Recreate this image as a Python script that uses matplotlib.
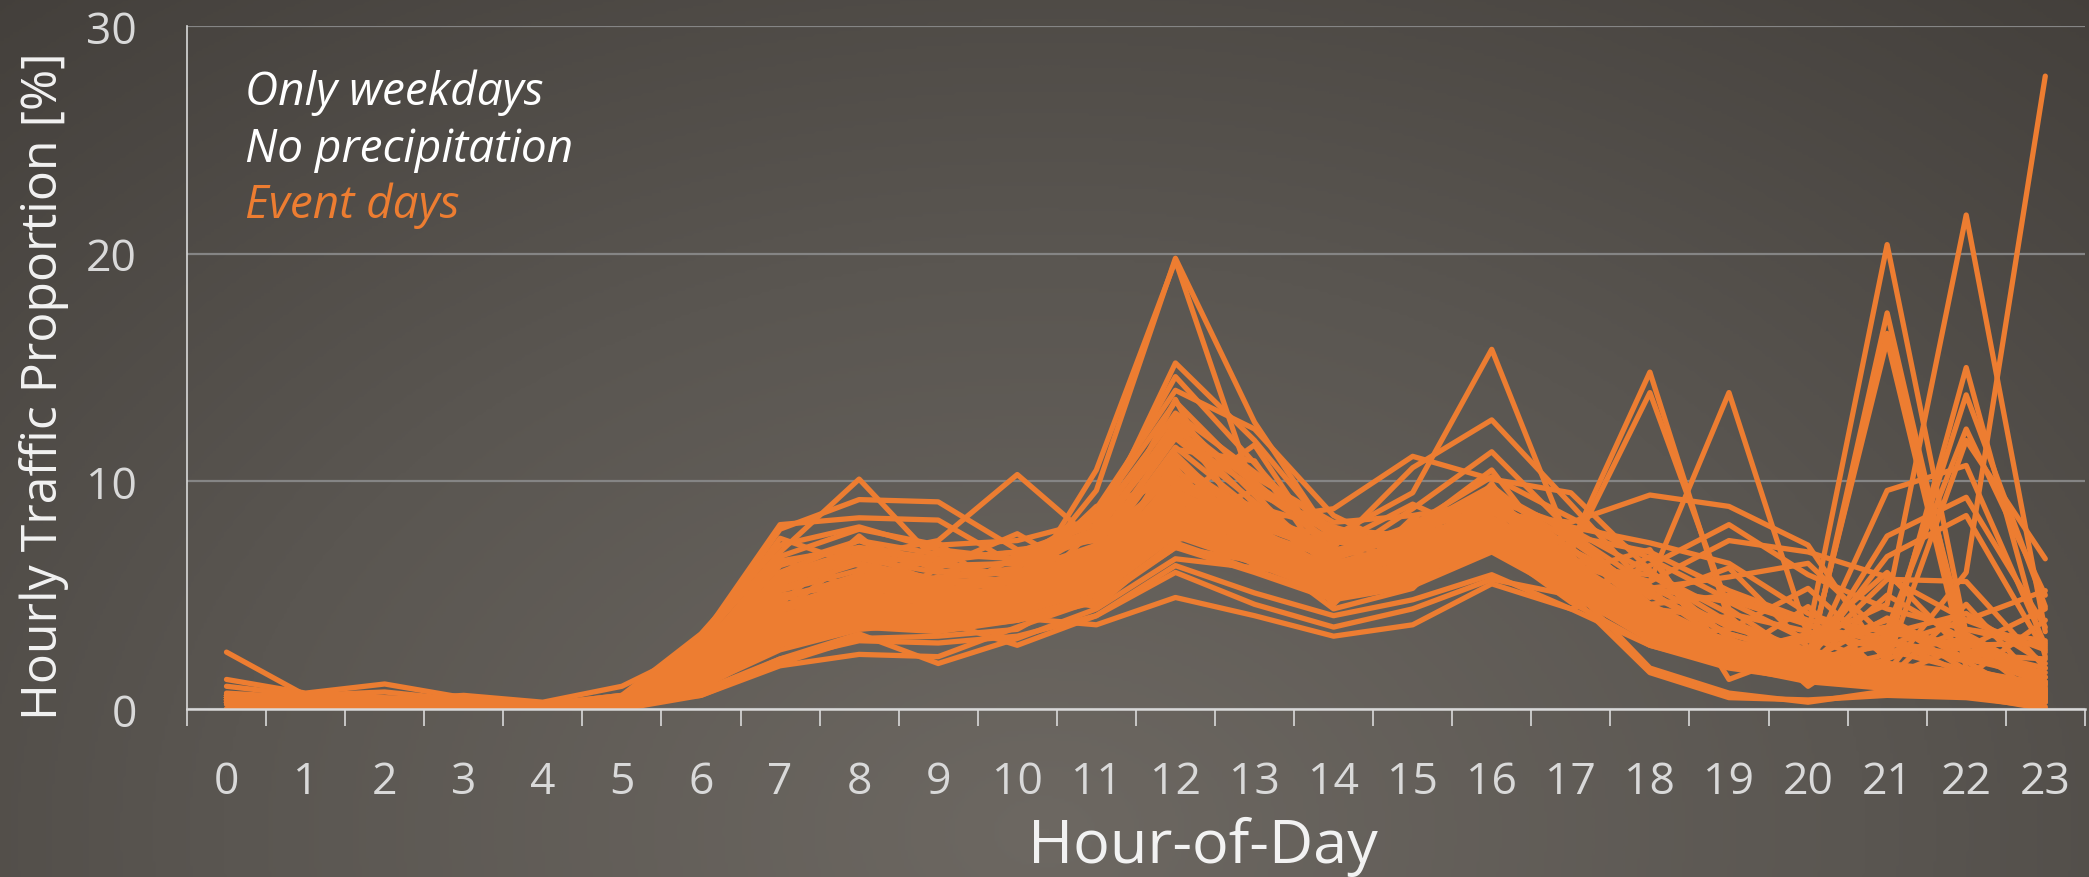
import numpy as np
import matplotlib
matplotlib.use("Agg")
import matplotlib.pyplot as plt
from matplotlib.colors import LinearSegmentedColormap

hours = list(range(24))
hour_labels = [str(h) for h in hours]
y_ticks = [0, 10, 20, 30]

# hourly share of daily traffic [%], one list per event day (hour 0..23)
d01 = [2.5, 0.6, 0.5, 0.4, 0.2, 0.5, 1.8, 5.2, 6.1, 5.4, 5.0, 6.3, 10.2, 8.0, 6.1, 7.2, 9.0, 6.5, 4.3, 3.0, 2.2, 2.0, 1.5, 1.0]
d02 = [1.3, 0.7, 1.1, 0.5, 0.2, 0.6, 2.2, 6.0, 7.4, 6.1, 5.5, 6.8, 11.5, 8.7, 6.4, 7.0, 8.4, 6.2, 4.0, 2.6, 1.8, 1.6, 1.2, 0.8]
d03 = [1.0, 0.6, 0.75, 0.4, 0.2, 0.4, 1.5, 4.5, 5.6, 5.3, 4.8, 6.0, 9.6, 7.9, 5.7, 6.9, 9.2, 7.0, 5.1, 3.3, 2.3, 2.0, 1.6, 1.1]
d04 = [0.4, 0.3, 0.3, 0.3, 0.1, 0.4, 1.6, 4.1, 5.0, 4.6, 5.3, 9.6, 19.8, 12.6, 7.4, 6.5, 7.6, 5.2, 3.1, 2.1, 1.3, 1.2, 0.9, 0.6]
d05 = [0.5, 0.4, 0.3, 0.3, 0.2, 0.3, 1.4, 3.6, 4.6, 4.4, 4.9, 10.5, 19.7, 9.5, 8.0, 7.0, 8.0, 5.6, 3.2, 2.0, 1.3, 1.1, 0.8, 0.5]
d06 = [0.6, 0.4, 0.4, 0.3, 0.2, 0.4, 1.9, 4.8, 5.9, 5.2, 5.8, 7.9, 15.2, 11.8, 7.6, 6.3, 7.9, 5.5, 3.4, 2.3, 1.6, 1.3, 1.0, 0.7]
d07 = [0.5, 0.3, 0.4, 0.4, 0.2, 0.5, 2.0, 5.3, 6.4, 5.7, 6.2, 8.4, 14.6, 10.8, 6.9, 7.4, 8.3, 5.8, 3.5, 2.2, 1.5, 1.2, 1.0, 0.6]
d08 = [0.6, 0.4, 0.3, 0.3, 0.2, 0.4, 1.7, 5.0, 5.5, 5.1, 5.9, 8.8, 14.0, 12.3, 8.5, 6.8, 7.5, 5.4, 3.6, 2.3, 1.5, 1.3, 0.9, 0.6]
d09 = [0.4, 0.3, 0.3, 0.3, 0.2, 0.4, 1.3, 3.9, 4.7, 4.8, 5.0, 6.1, 9.8, 8.2, 7.6, 9.5, 15.8, 7.1, 4.3, 2.7, 1.9, 1.7, 1.2, 0.7]
d10 = [0.5, 0.3, 0.3, 0.3, 0.1, 0.3, 1.5, 4.3, 5.3, 4.9, 5.4, 6.6, 10.8, 8.6, 7.1, 10.6, 12.7, 9.0, 5.2, 2.8, 1.9, 1.6, 1.2, 0.8]
d11 = [0.5, 0.4, 0.4, 0.3, 0.2, 0.4, 1.8, 4.9, 5.8, 5.6, 5.7, 7.1, 11.9, 9.1, 6.5, 8.8, 11.3, 7.8, 4.6, 2.6, 1.8, 1.5, 1.1, 0.7]
d12 = [0.4, 0.3, 0.3, 0.3, 0.2, 0.4, 1.6, 4.4, 5.1, 4.7, 5.2, 6.4, 9.3, 8.3, 8.8, 11.1, 10.1, 9.5, 6.1, 3.1, 1.7, 1.4, 1.0, 0.6]
d13 = [0.3, 0.2, 0.2, 0.2, 0.1, 0.3, 1.2, 3.5, 4.6, 4.5, 4.9, 6.0, 9.2, 7.6, 6.0, 6.6, 8.0, 7.2, 14.8, 3.9, 2.5, 1.6, 1.0, 0.5]
d14 = [0.4, 0.3, 0.3, 0.2, 0.1, 0.3, 1.3, 3.8, 4.9, 4.9, 5.1, 6.2, 9.5, 7.8, 6.2, 6.9, 8.3, 6.9, 13.9, 4.4, 2.1, 1.5, 1.1, 0.6]
d15 = [0.3, 0.3, 0.2, 0.2, 0.1, 0.3, 1.1, 3.2, 4.1, 4.0, 4.4, 5.5, 8.0, 7.0, 6.1, 7.5, 8.6, 8.2, 9.4, 8.9, 7.2, 2.0, 1.3, 0.7]
d16 = [0.4, 0.3, 0.3, 0.3, 0.1, 0.3, 1.2, 3.6, 4.5, 4.3, 4.7, 6.0, 8.7, 7.4, 6.3, 7.1, 8.4, 6.6, 5.6, 13.9, 3.2, 1.8, 1.2, 0.6]
d17 = [0.3, 0.2, 0.2, 0.2, 0.1, 0.2, 1.0, 3.0, 3.9, 3.6, 4.0, 5.0, 7.7, 6.4, 5.0, 5.9, 7.3, 5.6, 3.6, 2.4, 3.3, 20.4, 3.3, 1.4]
d18 = [0.3, 0.2, 0.2, 0.2, 0.1, 0.3, 1.1, 3.2, 4.2, 3.8, 4.3, 5.3, 8.0, 6.6, 5.2, 6.2, 7.6, 5.9, 3.8, 2.5, 1.9, 17.4, 2.4, 1.1]
d19 = [0.3, 0.2, 0.2, 0.2, 0.1, 0.3, 1.1, 3.3, 4.0, 4.0, 4.4, 5.4, 8.2, 6.8, 5.4, 6.3, 7.9, 6.0, 3.9, 2.6, 2.1, 16.5, 2.9, 1.2]
d20 = [0.3, 0.3, 0.3, 0.2, 0.1, 0.3, 1.2, 3.4, 4.3, 4.1, 4.5, 5.6, 8.4, 6.9, 5.5, 6.4, 7.8, 5.8, 4.0, 2.7, 2.2, 16.2, 1.8, 0.9]
d21 = [0.3, 0.2, 0.2, 0.2, 0.1, 0.2, 0.9, 2.8, 3.6, 3.4, 3.9, 4.7, 7.1, 6.0, 4.8, 5.4, 6.9, 5.0, 3.4, 2.4, 3.0, 4.6, 21.7, 3.4]
d22 = [0.2, 0.2, 0.2, 0.1, 0.1, 0.2, 0.7, 2.2, 3.0, 2.9, 3.2, 4.1, 6.3, 5.1, 4.1, 4.8, 5.9, 4.4, 2.8, 1.8, 1.3, 1.6, 6.0, 27.8]
d23 = [0.3, 0.2, 0.2, 0.2, 0.1, 0.2, 1.0, 2.9, 3.7, 3.5, 3.9, 4.8, 7.3, 6.1, 4.9, 5.6, 7.0, 5.2, 3.3, 2.2, 1.6, 2.4, 15.0, 2.3]
d24 = [0.3, 0.2, 0.2, 0.2, 0.1, 0.3, 1.0, 3.0, 3.8, 3.6, 4.0, 5.0, 7.6, 6.4, 5.0, 5.8, 7.2, 5.3, 3.5, 2.3, 1.7, 3.0, 13.8, 4.5]
d25 = [0.3, 0.3, 0.2, 0.2, 0.1, 0.3, 1.1, 3.1, 4.0, 3.7, 4.2, 5.2, 7.8, 6.6, 5.1, 6.0, 7.4, 5.4, 3.5, 2.4, 1.8, 3.5, 12.3, 5.0]
d26 = [0.3, 0.3, 0.2, 0.2, 0.1, 0.3, 1.1, 3.2, 4.1, 3.9, 4.3, 5.3, 8.1, 6.7, 5.3, 6.1, 7.5, 5.5, 3.7, 2.5, 1.9, 2.1, 11.8, 6.6]
d27 = [0.4, 0.3, 0.3, 0.2, 0.1, 0.3, 1.2, 3.4, 4.4, 4.0, 4.5, 5.5, 8.3, 6.9, 5.4, 6.2, 7.7, 5.7, 3.8, 2.6, 2.0, 9.6, 10.7, 2.8]
d28 = [0.4, 0.3, 0.3, 0.2, 0.2, 0.4, 1.3, 3.7, 4.6, 4.2, 4.7, 5.8, 8.8, 7.2, 5.6, 6.5, 8.0, 5.9, 4.0, 2.8, 2.0, 7.6, 9.3, 3.6]
d29 = [0.4, 0.3, 0.3, 0.3, 0.2, 0.4, 1.4, 3.9, 4.8, 4.4, 4.9, 6.0, 9.0, 7.4, 5.8, 6.7, 8.2, 6.1, 4.1, 2.9, 2.2, 6.7, 8.5, 2.5]
d30 = [0.4, 0.3, 0.3, 0.3, 0.2, 0.4, 1.5, 4.1, 5.0, 4.6, 5.0, 6.2, 9.4, 7.6, 5.9, 6.8, 8.4, 6.3, 4.2, 3.0, 2.3, 5.7, 5.6, 1.8]
d31 = [0.5, 0.4, 0.3, 0.3, 0.2, 0.5, 3.0, 6.9, 10.1, 6.4, 5.8, 6.6, 9.4, 7.1, 5.5, 6.1, 7.6, 5.6, 3.7, 2.5, 1.8, 1.4, 1.0, 0.6]
d32 = [0.5, 0.4, 0.4, 0.3, 0.2, 0.5, 2.9, 7.9, 9.2, 9.1, 7.0, 7.4, 10.2, 7.3, 5.3, 6.0, 7.2, 5.2, 3.4, 2.2, 1.5, 1.2, 0.9, 0.5]
d33 = [0.5, 0.4, 0.3, 0.3, 0.2, 0.5, 3.1, 8.1, 8.4, 8.3, 6.3, 7.7, 10.9, 7.5, 5.4, 6.2, 7.4, 5.3, 3.3, 2.2, 1.5, 1.2, 0.8, 0.5]
d34 = [0.5, 0.3, 0.3, 0.3, 0.2, 0.4, 2.2, 5.7, 6.7, 7.4, 10.3, 7.3, 11.2, 7.8, 5.6, 6.4, 7.6, 5.5, 3.4, 2.2, 1.4, 1.1, 0.8, 0.5]
d35 = [0.6, 0.4, 0.4, 0.3, 0.2, 0.3, 0.6, 1.9, 2.4, 2.3, 3.6, 4.8, 7.1, 6.5, 6.0, 7.2, 9.2, 8.0, 7.3, 6.4, 4.2, 3.0, 2.3, 1.6]
d36 = [0.6, 0.5, 0.4, 0.4, 0.2, 0.3, 0.8, 2.2, 3.3, 2.0, 3.1, 4.4, 6.6, 6.2, 5.8, 7.0, 8.9, 7.6, 6.9, 5.2, 3.9, 3.4, 2.6, 1.8]
d37 = [0.7, 0.5, 0.4, 0.4, 0.2, 0.4, 1.0, 2.6, 3.5, 3.8, 4.0, 3.7, 4.9, 4.1, 3.2, 3.7, 5.5, 4.4, 5.6, 7.4, 6.9, 5.8, 3.9, 2.6]
d38 = [0.6, 0.5, 0.4, 0.3, 0.2, 0.4, 1.1, 2.9, 3.9, 3.9, 2.8, 4.1, 6.0, 4.6, 3.6, 4.4, 5.7, 5.0, 6.3, 8.1, 5.9, 4.4, 3.5, 2.7]
d39 = [0.4, 0.3, 0.3, 0.3, 0.2, 0.4, 1.6, 4.4, 5.4, 5.0, 5.3, 6.5, 9.6, 7.6, 5.6, 6.5, 8.0, 6.4, 5.3, 5.8, 6.4, 3.1, 1.5, 0.8]
d40 = [0.5, 0.4, 0.3, 0.3, 0.2, 0.5, 2.4, 6.3, 7.4, 6.8, 6.6, 7.9, 12.4, 9.0, 6.1, 6.6, 7.9, 5.4, 3.3, 2.1, 1.5, 1.2, 0.8, 0.5]
d41 = [0.4, 0.3, 0.3, 0.3, 0.2, 0.5, 2.6, 6.7, 7.9, 7.2, 7.4, 8.3, 12.9, 9.4, 6.2, 6.8, 7.5, 5.0, 3.1, 2.0, 1.3, 1.0, 0.7, 0.4]
d42 = [0.4, 0.3, 0.3, 0.2, 0.1, 0.4, 2.0, 5.6, 6.8, 6.3, 6.4, 7.5, 11.0, 8.3, 6.8, 7.8, 8.9, 6.1, 3.8, 2.4, 1.6, 1.3, 0.9, 0.5]
d43 = [0.5, 0.4, 0.3, 0.3, 0.2, 0.3, 1.3, 3.7, 4.6, 5.2, 5.6, 6.9, 10.4, 8.8, 7.0, 7.5, 9.5, 7.4, 5.0, 3.3, 2.4, 1.7, 1.1, 0.7]
d44 = [0.5, 0.4, 0.3, 0.3, 0.2, 0.4, 1.4, 4.0, 5.0, 5.8, 6.0, 7.2, 12.0, 9.7, 7.3, 7.9, 9.8, 7.0, 4.6, 2.9, 2.0, 1.5, 1.0, 0.6]
d45 = [0.6, 0.4, 0.4, 0.3, 0.2, 0.3, 1.0, 3.1, 4.2, 4.6, 5.2, 6.3, 8.5, 7.8, 6.6, 7.7, 9.3, 7.9, 6.0, 4.2, 3.4, 2.6, 1.7, 1.1]
d46 = [0.4, 0.3, 0.3, 0.2, 0.1, 0.3, 1.2, 3.5, 4.4, 4.3, 4.6, 5.7, 8.6, 7.0, 5.5, 6.3, 7.7, 5.6, 3.9, 2.7, 2.2, 2.8, 3.9, 5.2]
d47 = [0.4, 0.3, 0.3, 0.2, 0.1, 0.3, 1.3, 3.6, 4.6, 4.5, 4.8, 5.9, 9.0, 7.2, 5.7, 6.4, 7.8, 5.7, 4.0, 2.8, 3.1, 3.6, 2.7, 4.4]
d48 = [0.5, 0.4, 0.3, 0.3, 0.2, 0.6, 3.3, 7.2, 8.0, 7.0, 6.6, 8.6, 13.5, 10.0, 7.0, 6.4, 7.2, 4.7, 2.8, 1.9, 1.2, 0.9, 0.6, 0.3]
d49 = [0.6, 0.5, 0.4, 0.6, 0.3, 1.0, 2.7, 6.5, 7.1, 6.6, 6.9, 7.7, 12.6, 9.9, 7.6, 7.1, 8.1, 5.1, 3.0, 2.0, 1.3, 1.0, 0.7, 0.4]
d50 = [0.0, 0.0, 0.0, 0.0, 0.0, 0.0, 1.1, 3.0, 4.3, 4.4, 4.7, 6.2, 9.9, 8.5, 6.9, 7.7, 9.6, 7.7, 5.4, 3.6, 2.6, 1.9, 1.3, 0.0]
d51 = [0.0, 0.0, 0.0, 0.0, 0.0, 0.0, 0.6, 2.0, 3.1, 3.2, 3.5, 5.4, 8.9, 8.1, 6.8, 8.1, 10.2, 8.4, 6.6, 4.8, 3.7, 2.9, 2.1, 0.0]
d52 = [0.5, 0.4, 0.3, 0.3, 0.2, 0.5, 2.1, 5.9, 7.0, 6.5, 6.9, 8.1, 13.0, 10.4, 7.9, 7.6, 8.2, 5.0, 1.6, 0.5, 0.4, 0.6, 0.5, 0.1]
d53 = [0.4, 0.3, 0.3, 0.3, 0.2, 0.4, 1.9, 5.5, 6.6, 6.0, 6.5, 7.8, 12.2, 10.2, 8.2, 8.5, 9.1, 5.4, 1.8, 0.7, 0.3, 0.8, 0.6, 0.0]
d54 = [0.5, 0.4, 0.3, 0.3, 0.2, 0.4, 1.7, 4.6, 7.6, 4.9, 6.7, 5.2, 8.3, 9.6, 5.1, 8.4, 7.3, 6.2, 5.9, 3.8, 2.1, 4.0, 2.2, 1.4]
d55 = [0.4, 0.3, 0.3, 0.2, 0.2, 0.4, 2.3, 6.6, 5.2, 7.3, 4.6, 8.0, 9.0, 6.3, 7.8, 6.0, 9.9, 5.0, 4.6, 5.0, 3.7, 2.5, 3.1, 1.2]
d56 = [0.6, 0.4, 0.4, 0.3, 0.2, 0.3, 1.2, 3.3, 6.0, 3.7, 5.9, 6.9, 13.6, 7.0, 4.4, 5.3, 8.7, 6.8, 3.0, 4.1, 1.0, 3.3, 4.2, 2.0]
d57 = [0.5, 0.3, 0.3, 0.3, 0.2, 0.4, 2.5, 5.0, 4.1, 6.2, 7.7, 5.7, 11.4, 10.9, 5.9, 7.2, 8.8, 4.8, 6.7, 2.3, 4.5, 1.4, 2.8, 2.9]
d58 = [0.4, 0.4, 0.3, 0.3, 0.1, 0.4, 1.5, 4.2, 6.9, 5.5, 3.9, 7.0, 8.1, 8.0, 7.2, 9.0, 7.4, 7.5, 4.9, 6.2, 2.7, 3.9, 1.7, 0.9]
d59 = [0.5, 0.4, 0.4, 0.3, 0.2, 0.3, 1.4, 4.7, 3.8, 4.6, 6.8, 6.5, 10.6, 6.7, 6.6, 5.7, 9.4, 6.4, 3.2, 3.5, 5.3, 2.2, 3.5, 3.0]
d60 = [0.6, 0.5, 0.4, 0.3, 0.2, 0.4, 1.0, 3.8, 5.7, 6.6, 5.1, 4.5, 7.4, 8.4, 4.6, 8.2, 7.0, 7.0, 5.3, 4.7, 3.0, 6.0, 2.4, 2.2]
d61 = [0.3, 0.3, 0.3, 0.2, 0.1, 0.3, 2.8, 7.5, 6.3, 5.5, 5.6, 8.9, 10.0, 8.9, 7.9, 6.9, 7.1, 6.5, 3.6, 2.9, 1.6, 1.3, 4.6, 0.8]
d62 = [0.4, 0.3, 0.2, 0.2, 0.1, 0.3, 1.8, 5.8, 7.0, 4.0, 6.1, 5.9, 12.7, 7.7, 5.2, 7.9, 10.5, 6.0, 7.0, 1.3, 2.6, 1.8, 1.4, 3.9]
d63 = [0.5, 0.4, 0.3, 0.3, 0.2, 0.5, 2.1, 4.3, 5.4, 6.9, 4.4, 6.7, 9.1, 11.6, 6.4, 7.3, 8.6, 7.7, 4.4, 4.0, 1.9, 5.0, 3.0, 0.3]

event_days = [d01, d02, d03, d04, d05, d06, d07, d08, d09, d10,
              d11, d12, d13, d14, d15, d16, d17, d18, d19, d20,
              d21, d22, d23, d24, d25, d26, d27, d28, d29, d30,
              d31, d32, d33, d34, d35, d36, d37, d38, d39, d40,
              d41, d42, d43, d44, d45, d46, d47, d48, d49, d50,
              d51, d52, d53, d54, d55, d56, d57, d58, d59, d60,
              d61, d62, d63]

orange = "#ED7D31"
light = "#d9d9d9"
plt.rcParams["font.family"] = ["Open Sans", "DejaVu Sans"]

fig = plt.figure(figsize=(20.89, 8.78), dpi=100)

# dark backdrop, lighter towards the bottom middle
bg = fig.add_axes([0, 0, 1, 1], zorder=-1)
gx, gy = np.meshgrid(np.linspace(0, 1, 700), np.linspace(0, 1, 300))
dist = np.sqrt(((gx - 0.5) / 0.75) ** 2 + ((gy - 0.95) / 1.25) ** 2)
bg_cmap = LinearSegmentedColormap.from_list("bg", ["#6d6862", "#5a5651", "#423e3a"])
bg.imshow(dist, cmap=bg_cmap, vmin=0, vmax=1.05, aspect="auto", interpolation="bilinear")
bg.axis("off")

ax = fig.add_axes([0.0895, 0.1913, 0.9085, 0.7779])
ax.set_facecolor("none")

for day in event_days:
    ax.plot(hours, day, color=orange, lw=3.8, solid_joinstyle="round", solid_capstyle="round")

ax.set_xlim(-0.5, 23.5)
ax.set_ylim(0, 30)

# y axis: gridlines only, no tick marks
ax.set_yticks(y_ticks)
ax.yaxis.grid(True, color="#858585", lw=1.6)
ax.set_axisbelow(True)
ax.tick_params(axis="y", length=0, pad=36, labelsize=32, labelcolor=light)

# x axis: tick marks between hours, labels centred on the hours
ax.set_xticks(np.arange(-0.5, 24.0, 1))
ax.set_xticklabels([])
ax.set_xticks(hours, minor=True)
ax.set_xticklabels(hour_labels, minor=True)
ax.tick_params(axis="x", which="major", length=12, width=1.2, color=light, direction="out")
ax.tick_params(axis="x", which="minor", length=0, pad=36, labelsize=32, labelcolor=light)

for side in ["top", "right"]:
    ax.spines[side].set_visible(False)
ax.spines["left"].set_color(light)
ax.spines["left"].set_linewidth(1.2)
ax.spines["bottom"].set_color(light)
ax.spines["bottom"].set_linewidth(1.8)

fig.text(0.1173, 0.880, "Only weekdays", fontsize=33, style="italic", color="white")
fig.text(0.1173, 0.8155, "No precipitation", fontsize=33, style="italic", color="white")
fig.text(0.1173, 0.7517, "Event days", fontsize=33, style="italic", color=orange)

fig.text(0.021, 0.56, "Hourly Traffic Proportion [%]", rotation=90, ha="center", va="center",
         fontsize=36, color="#f2f2f2")
fig.text(0.576, 0.017, "Hour-of-Day", ha="center", va="baseline", fontsize=44, color="#f2f2f2")

fig.savefig("out.png", dpi=100)
